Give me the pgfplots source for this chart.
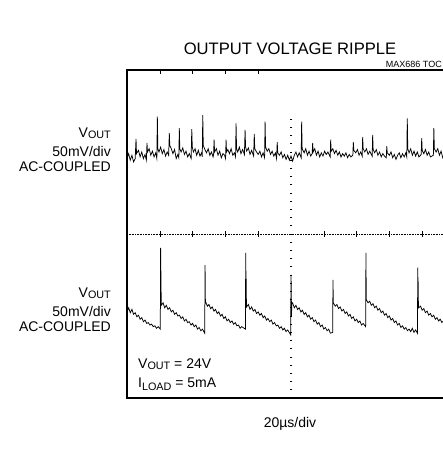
\documentclass[border=0pt]{standalone}
\usepackage{pgfplots}
\pgfplotsset{compat=1.18}
\usepackage{fontspec}
\setmainfont{Liberation Sans}
\newcommand{\lbl}{\fontsize{14}{16}\selectfont}
\newcommand{\sub}[1]{\raisebox{-1pt}{\fontsize{10.8}{12}\selectfont #1}}
\newcommand{\subb}[1]{\raisebox{-2.5pt}{\fontsize{10.8}{12}\selectfont #1}}
\begin{document}
\begin{tikzpicture}[x=1pt,y=1pt]
\useasboundingbox (0,0) rectangle (443,453);
\clip (0,0) rectangle (443,453);
\begin{axis}[at={(127pt,55pt)},anchor=south west, scale only axis,
  width=328pt,height=328pt, xmin=0,xmax=200,ymin=-200,ymax=200,
  xtick=\empty, ytick=\empty, axis line style={line width=2.6pt}, clip=true]
 \draw[densely dotted, line width=0.6pt] (axis cs:0,0) -- (axis cs:200,0);
 \pgfplotsinvokeforeach{20,40,60,80,120,140,160,180}{
   \draw[line width=0.6pt] (axis cs:#1,-3.5) -- (axis cs:#1,3.5);}
 \pgfplotsinvokeforeach{20,40,60,80}{
   \draw[line width=0.6pt] (axis cs:#1,200) -- (axis cs:#1,195);}
 \pgfplotsinvokeforeach{-190,-180,...,140}{
   \draw[line width=0.6pt] (axis cs:99.3,#1) -- (axis cs:100.7,#1);}
 \addplot[black, line width=0.75pt] coordinates {
(0,92)(1,98)(2,90)(3,96)(4,88)(5,92)(5.5,116)(5.8,98)(7,102)(8,94)(9,100)(10,92)(11,97)(11.8,90)(12.2,111)(12.5,100)(13.5,104)(14.5,96)(15.5,101)(16.5,94)(17.5,99)(18.2,92)(18.5,143)(18.8,104)(19.5,100)(20.5,106)(21.5,98)(22.5,103)(23.5,95)(24.5,100)(25.4,96)(25.8,123)(26.1,108)(27,104)(28,98)(29,103)(30,92)(31,97)(31.6,93)(31.9,129)(32.2,104)(33,100)(34,105)(35,97)(36,101)(37,94)(38,98)(39.1,92)(39.5,128)(39.8,106)(40.5,100)(41.5,104)(42.5,96)(43.5,102)(44.5,95)(45.5,99)(45.9,94)(46.2,145)(46.5,108)(47.5,103)(48.5,99)(49.5,104)(50.5,96)(51.5,100)(52.5,94)(52.8,97)(53.1,115)(53.4,100)(54.5,104)(55.5,96)(56.5,101)(57.5,93)(58.5,98)(59.5,96)(60.1,92)(60.4,115)(60.7,100)(61.5,103)(62.5,98)(63.5,104)(64.5,96)(65.5,99)(66.2,94)(66.5,135)(66.8,104)(67.5,100)(68.5,106)(69.5,98)(70.5,103)(71.6,97)(72,127)(72.3,106)(73,101)(74,105)(75,97)(76,102)(77.2,95)(77.6,122)(77.9,104)(79,100)(80,97)(81,101)(82,94)(83,99)(83.9,93)(84.2,137)(84.5,106)(85.5,101)(86.5,104)(87.5,97)(88.5,101)(89.5,95)(90.5,99)(91.2,92)(91.6,112)(91.9,99)(93,96)(94,100)(95,93)(96,97)(97,91)(98,96)(99,90)(100,95)(101,89)(102,96)(103,100)(104,94)(105,99)(106.2,93)(106.5,137)(106.8,104)(108,99)(109,104)(110,96)(111,101)(112,95)(112.9,98)(113.2,111)(113.5,100)(114.5,104)(115.5,96)(116.5,101)(117.5,94)(118.5,99)(119.5,95)(120.5,101)(121.5,97)(122.5,100)(123.9,94)(124.2,115)(124.5,101)(125.5,104)(126.5,98)(127.5,102)(128.5,96)(129.5,100)(130.5,94)(131.5,98)(132.5,95)(133.5,99)(134.5,93)(135.5,97)(136.5,94)(137.7,96)(138,112)(138.3,102)(139.5,99)(140.5,103)(141.5,96)(142.5,100)(143.4,95)(143.7,118)(144,104)(145,100)(146,104)(147,97)(148,101)(149.5,95)(149.8,121)(150.1,103)(151,99)(152,103)(153,96)(154,100)(155,94)(156,98)(157,95)(158.1,93)(158.4,107)(158.7,99)(160,96)(161,100)(162,93)(163,97)(164,91)(165,96)(166,99)(167,93)(168,98)(169,94)(170,99)(170.6,94)(170.9,141)(171.2,104)(172,99)(173,104)(174,96)(175,101)(176,95)(177,100)(178,94)(179.4,97)(179.7,117)(180,102)(181,98)(182,103)(183,96)(184,100)(185,94)(186.8,96)(187.1,129)(187.4,104)(188.5,100)(189.5,104)(190.5,96)(191.5,101)(192.5,93)(193.5,98)(195,92)(196,97)(197,91)(198,96)(199,90)(200,95)
 };
 \addplot[black, line width=0.75pt] coordinates {
(0,-95)(1,-90)(2,-96)(3,-92)(4,-98)(5,-96)(6,-101)(7,-99)(8,-104)(9,-102)(10,-107)(11,-105)(12,-109)(13,-108)(14,-111)(15,-110)(16,-113)(17,-112)(18,-115)(19,-113)(20.3,-116)
(20.5,-17)(20.6,-50)(20.7,-45)(20.8,-70)(20.9,-87)(22,-84)(23,-90)(24,-87)(25,-92)(26,-90)(27,-95)(28,-93)(29,-98)(30,-96)(31,-100)(32,-99)(33,-103)(34,-101)(35,-106)(36,-104)(37,-108)(38,-107)(39,-111)(40,-109)(41,-113)(42,-111)(43,-116)(44,-114)(45,-118)(46,-116)(47.4,-121)
(47.6,-38)(47.8,-82)(49,-88)(50,-86)(51,-91)(52,-89)(53,-94)(54,-92)(55,-97)(56,-95)(57,-100)(58,-98)(59,-103)(60,-101)(61,-106)(62,-104)(63,-108)(64,-106)(65,-110)(66,-108)(67,-112)(68,-111)(69,-115)(70,-113)(72.2,-116)
(72.4,-23)(72.5,-50)(72.6,-45)(72.7,-72)(72.9,-89)(74,-86)(75,-92)(76,-89)(77,-94)(78,-92)(79,-97)(80,-95)(81,-99)(82,-97)(83,-102)(84,-100)(85,-105)(86,-103)(87,-107)(88,-105)(89,-110)(90,-108)(91,-112)(92,-111)(93,-115)(94,-113)(95,-117)(96,-115)(97,-119)(98,-117)(99.8,-123)
(100,-50)(100.1,-60)(100.2,-75)(100.3,-100)(100.5,-85)(101,-84)(102,-90)(103,-87)(104,-92)(105,-90)(106,-95)(107,-93)(108,-98)(109,-96)(110,-101)(111,-99)(112,-104)(113,-102)(114,-107)(115,-105)(116,-110)(117,-108)(118,-113)(119,-111)(120,-116)(121,-114)(122,-118)(123,-116)(124,-121)(125.4,-120)
(125.6,-56)(125.8,-84)(127,-88)(128,-86)(129,-91)(130,-89)(131,-94)(132,-92)(133,-97)(134,-95)(135,-100)(136,-98)(137,-103)(138,-101)(139,-106)(140,-104)(141,-108)(142,-106)(143,-111)(144,-109)(145.5,-113)
(145.7,-23)(145.9,-80)(147,-84)(148,-82)(149,-87)(150,-85)(151,-90)(152,-88)(153,-93)(154,-91)(155,-96)(156,-94)(157,-99)(158,-97)(159,-102)(160,-100)(161,-105)(162,-103)(163,-108)(164,-106)(165,-111)(166,-109)(167,-114)(168,-112)(169,-116)(170,-114)(171,-118)(172,-116)(173,-119)(174,-115)(175,-120)(176,-117)(177.1,-121)
(177.3,-41)(177.4,-60)(177.5,-55)(177.6,-78)(177.8,-90)(179,-88)(180,-93)(181,-91)(182,-96)(183,-94)(184,-99)(185,-97)(186,-101)(187,-99)(188,-104)(189,-102)(190,-106)(191,-104)(192,-108)(193,-106)(194,-110)(195,-108)(196,-112)(197,-110)(198,-114)(199,-112)(200,-116)
 };
\end{axis}
\node[anchor=base, font=\fontsize{16.6}{18}\selectfont, inner sep=0pt] at (290,398) {OUTPUT VOLTAGE RIPPLE};
\node[anchor=base east, font=\fontsize{9}{10}\selectfont, inner sep=0pt] at (442,385) {MAX686 TOC};
\node[anchor=base east, font=\lbl, inner sep=0pt] at (111,315) {V\sub{OUT}};
\node[anchor=base east, font=\lbl, inner sep=0pt] at (111,296) {50mV/div};
\node[anchor=base east, font=\lbl, inner sep=0pt] at (111,281) {AC-COUPLED};
\node[anchor=base east, font=\lbl, inner sep=0pt] at (111,155) {V\sub{OUT}};
\node[anchor=base east, font=\lbl, inner sep=0pt] at (111,136) {50mV/div};
\node[anchor=base east, font=\lbl, inner sep=0pt] at (111,121) {AC-COUPLED};
\node[anchor=base west, font=\lbl, inner sep=0pt] at (138,84) {V\sub{OUT} = 24V};
\node[anchor=base west, font=\lbl, inner sep=0pt] at (138,65) {I\subb{LOAD} = 5mA};
\node[anchor=base, font=\lbl, inner sep=0pt] at (290,25) {20µs/div};
\end{tikzpicture}
\end{document}
